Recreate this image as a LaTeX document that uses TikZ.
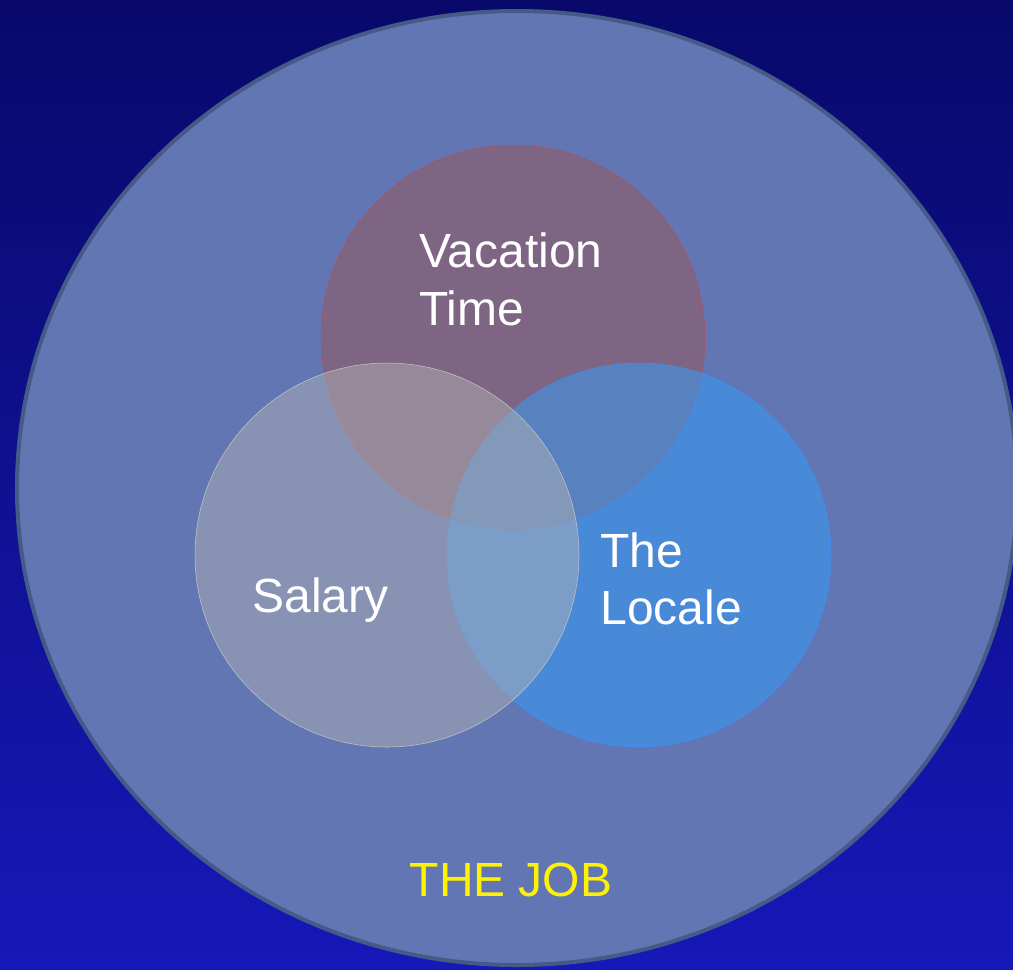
\documentclass[tikz,border=0pt]{standalone}
\usepackage{fontspec}
\setmainfont{Liberation Sans}
\usepackage{tikz}
\usetikzlibrary{positioning}

\definecolor{skytop}{RGB}{8,9,106}
\definecolor{skybot}{RGB}{22,24,184}
\definecolor{jobfill}{RGB}{98,118,180}
\definecolor{jobedge}{RGB}{70,90,136}
\definecolor{vacfill}{RGB}{125,101,131}
\definecolor{vacedge}{RGB}{176,80,90}
\definecolor{locfill}{RGB}{50,158,252}
\definecolor{locedge}{RGB}{58,144,248}
\definecolor{salfill}{RGB}{180,180,180}
\definecolor{saledge}{RGB}{196,196,196}

\begin{document}
\begin{tikzpicture}[x=0.2mm,y=-0.2mm]
\tikzstyle{lbl}=[anchor=base west,inner sep=0pt,text=white,font=\fontsize{27.3}{33}\selectfont]
\useasboundingbox (0,0) rectangle (1013,969);
\shade[top color=skytop,bottom color=skybot] (0,0) rectangle (1013,969);
% the job
\filldraw[fill=jobfill,draw=jobedge,line width=0.8mm] (517,488) ellipse [x radius=500,y radius=477];
% the three sets
\filldraw[fill=vacfill,draw=vacedge,line width=0.3pt] (513,337) circle (192);
\filldraw[fill=locfill,fill opacity=0.5,draw=locedge,line width=0.3pt] (639,555) circle (192);
\filldraw[fill=salfill,fill opacity=0.47,draw=saledge,line width=0.3pt] (387,555) circle (192);
% labels
\node[lbl] (vac) at (419,267) {Vacation};
\node[lbl] (time) at (419,325) {Time};
\node[lbl] (sal) at (252,612) {Salary};
\node[lbl] (the) at (600,567) {The};
\node[lbl] (loc) at (600,624) {Locale};
\node[lbl,anchor=base,text=yellow] (job) at (511,896) {THE JOB};
\end{tikzpicture}
\end{document}
